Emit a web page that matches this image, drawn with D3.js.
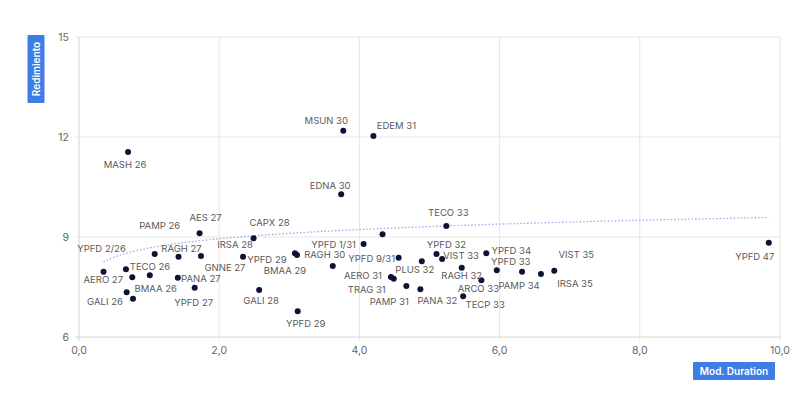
<!DOCTYPE html>
<html>
<head>
<meta charset="utf-8">
<script src="https://cdn.jsdelivr.net/npm/d3@7"></script>
<style>
  body { margin: 0; background: #fff; }
  svg { display: block; font-family: Inter, "Noto Sans", sans-serif; }
</style>
</head>
<body>
<div class="canvas"></div>
<script>
// bonos: nombre, mod. duration, rendimiento
var names = ["YPFD 2/26", "TECO 26", "AERO 27", "BMAA 26", "GALI 26", "", "PAMP 26", "RAGH 27",
  "PANA 27", "AES 27", "GNNE 27", "YPFD 27", "IRSA 28", "CAPX 28", "GALI 28", "YPFD 29", "BMAA 29",
  "RAGH 30", "YPFD 1/31", "", "YPFD 9/31", "AERO 31", "TRAG 31", "PAMP 31", "PANA 32", "PLUS 32",
  "YPFD 32", "VIST 33", "TECO 33", "RAGH 32", "TECP 33", "ARCO 33", "YPFD 34", "YPFD 33", "PAMP 34",
  "IRSA 35", "VIST 35", "YPFD 29", "MASH 26", "MSUN 30", "EDEM 31", "EDNA 30", "YPFD 47"];
var duration = [0.35, 0.67, 0.76, 0.68, 0.77, 1.01, 1.08, 1.42, 1.41, 1.72, 1.74, 1.65, 2.34, 2.49,
  2.57, 3.08, 3.11, 3.62, 4.06, 4.33, 4.56, 4.45, 4.49, 4.67, 4.87, 4.89, 5.10, 5.18, 5.24, 5.46,
  5.48, 5.74, 5.81, 5.96, 6.32, 6.59, 6.78, 3.12, 0.70, 3.77, 4.20, 3.74, 9.84];
var yieldPct = [7.96, 8.03, 7.79, 7.34, 7.15, 7.85, 8.49, 8.41, 7.78, 9.11, 8.43, 7.48, 8.41, 8.96,
  7.41, 8.51, 8.46, 8.13, 8.79, 9.08, 8.38, 7.80, 7.75, 7.53, 7.43, 8.27, 8.49, 8.34, 9.33, 8.08,
  7.22, 7.70, 8.51, 8.00, 7.96, 7.89, 7.99, 6.77, 11.55, 12.19, 12.03, 10.28, 8.83];
// posicion de cada etiqueta respecto de su punto
var labelOffsets = [[-2, -23], [24, -3], [-29, 2], [29, -4], [-28, 3], null, [5, -28], [3, -8],
  [23, 1], [6, -16], [24, 12], [-1, 15], [-8, -12], [16, -16], [2, 11], [-28, 6], [-12, 16],
  [-8, -11], [-30, 1], null, [-27, 1], [-28, -1], [-27, 11], [-17, 16], [17, 11], [-7, 8],
  [10, -9], [19, -3], [2, -13], [0, 8], [22, 8], [-3, 8], [25, -3], [14, -9], [-3, 14],
  [34, 10], [22, -16], [8, 12], [-3, 13], [-17, -10], [23, -10], [-11, -9], [-14, 14]];
var xTicks = [0, 2, 4, 6, 8, 10];
var yTicks = [6, 9, 12, 15];
// tendencia logaritmica: y = a + b ln(x)
var trendA = 8.67, trendB = 0.40;

var data = names.map(function(n, i) {
  return { name: n, x: duration[i], y: yieldPct[i], off: labelOffsets[i] };
});

var W = 800, H = 412;
var margin = { top: 37, right: 20, bottom: 75, left: 79 };

var svg = d3.select(".canvas").append("svg").attr("width", W).attr("height", H);

var x = d3.scaleLinear().domain([0, 10]).range([margin.left, W - margin.right]);
var y = d3.scaleLinear().domain([6, 15]).range([H - margin.bottom, margin.top]);

// grid
svg.append("g").selectAll("line").data(xTicks).enter().append("line")
  .attr("x1", function(d) { return x(d); }).attr("x2", function(d) { return x(d); })
  .attr("y1", y(15)).attr("y2", y(6) + 4)
  .attr("stroke", function(d) { return d === 0 ? "#d4d4d4" : "#e6e6e6"; }).attr("stroke-width", 1);
svg.append("g").selectAll("line").data(yTicks).enter().append("line")
  .attr("x1", x(0) - 4).attr("x2", x(10))
  .attr("y1", function(d) { return y(d); }).attr("y2", function(d) { return y(d); })
  .attr("stroke", function(d) { return d === 6 ? "#d4d4d4" : "#e6e6e6"; }).attr("stroke-width", 1);

var fmt = function(d) { return d3.format(".1f")(d).replace(".", ","); };

svg.append("g").selectAll("text").data(xTicks).enter().append("text")
  .attr("x", function(d) { return x(d); }).attr("y", y(6) + 17)
  .attr("text-anchor", "middle").attr("font-size", 10.5).attr("fill", "#666")
  .text(fmt);
svg.append("g").selectAll("text").data(yTicks).enter().append("text")
  .attr("x", x(0) - 10).attr("y", function(d) { return y(d); })
  .attr("dy", "0.35em").attr("text-anchor", "end").attr("font-size", 10.5).attr("fill", "#666")
  .text(function(d) { return d; });

// linea de tendencia
var x0 = d3.min(duration), x1 = d3.max(duration);
var trend = d3.range(0, 101).map(function(i) {
  var t = x0 + (x1 - x0) * i / 100;
  return [t, trendA + trendB * Math.log(t)];
});
svg.append("path")
  .datum(trend)
  .attr("d", d3.line().x(function(d) { return x(d[0]); }).y(function(d) { return y(d[1]); }).curve(d3.curveMonotoneX))
  .attr("fill", "none").attr("stroke", "#94aee8").attr("stroke-width", 1.3)
  .attr("stroke-dasharray", "1.5,2");

// puntos
svg.append("g").selectAll("circle").data(data).enter().append("circle")
  .attr("cx", function(d) { return x(d.x); }).attr("cy", function(d) { return y(d.y); })
  .attr("r", 3).attr("fill", "#0f1233");

svg.append("g").selectAll("text").data(data.filter(function(d) { return d.off; })).enter().append("text")
  .attr("x", function(d) { return x(d.x) + d.off[0]; })
  .attr("y", function(d) { return y(d.y) + d.off[1]; })
  .attr("dy", "0.35em").attr("text-anchor", "middle")
  .attr("font-size", 9.5).attr("fill", "#5a5a5a")
  .text(function(d) { return d.name; });

// titulos de ejes
var yt = svg.append("g").attr("transform", "translate(36," + (margin.top + 32) + ") rotate(-90)");
yt.append("rect").attr("x", -34).attr("y", -8.5).attr("width", 68).attr("height", 17)
  .attr("fill", "#3f7de6").attr("rx", 1);
yt.append("text").attr("text-anchor", "middle").attr("dy", "0.35em")
  .attr("font-size", 10).attr("font-weight", 600).attr("fill", "#fff").text("Redimiento");

var xt = svg.append("g").attr("transform", "translate(" + (x(10) - 46) + "," + (y(6) + 34) + ")");
xt.append("rect").attr("x", -41).attr("y", -9).attr("width", 82).attr("height", 18)
  .attr("fill", "#3f7de6").attr("rx", 1);
xt.append("text").attr("text-anchor", "middle").attr("dy", "0.35em")
  .attr("font-size", 10).attr("font-weight", 600).attr("fill", "#fff").text("Mod. Duration");
</script>
</body>
</html>
